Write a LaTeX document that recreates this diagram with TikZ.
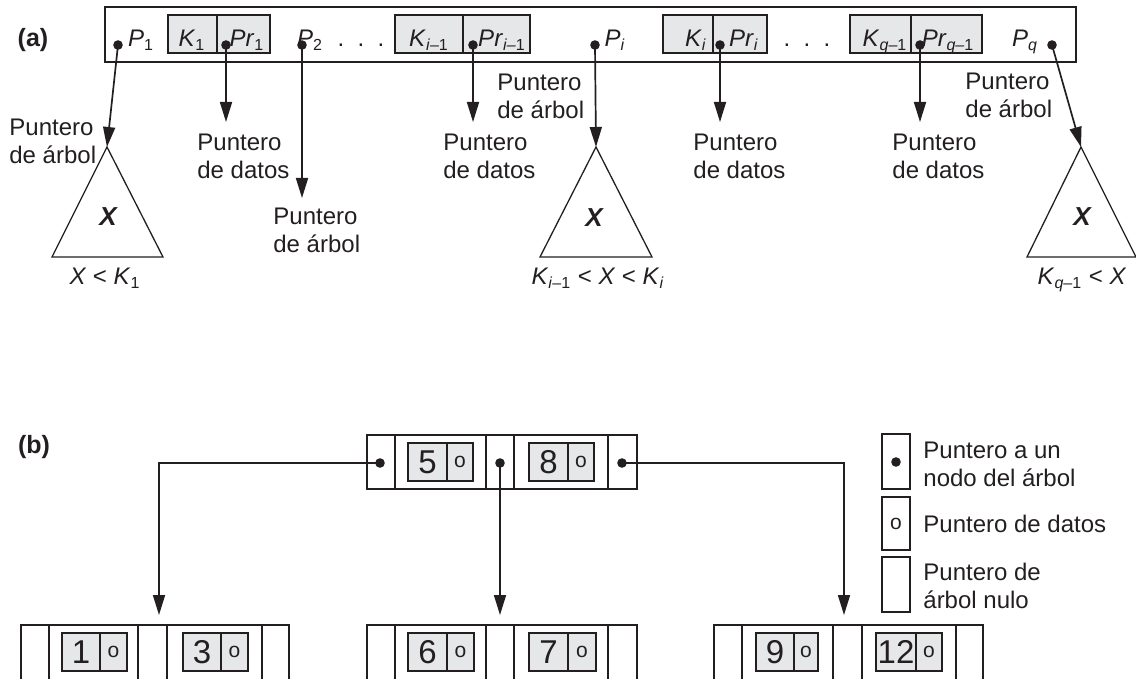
\documentclass[tikz,border=0pt]{standalone}
\usepackage{fontspec}
\setmainfont{Liberation Sans}
\usetikzlibrary{arrows.meta}
\definecolor{ink}{HTML}{231F20}
\definecolor{keyfill}{HTML}{E6E7E8}
\newcommand{\sbs}[1]{\textsubscript{#1}}
\begin{document}
\begin{tikzpicture}[x=0.5pt,y=-0.5pt,
  lbl/.style={font=\fontsize{12}{14}\selectfont, inner sep=0pt, text=ink},
  two/.style={lbl, align=left, anchor=west},
  tag/.style={font=\fontsize{12.5}{14}\selectfont\bfseries, inner sep=0pt, text=ink},
  bigx/.style={font=\fontsize{13}{14}\selectfont\bfseries\itshape, inner sep=0pt, text=ink},
  ptr/.style={draw=ink, line width=0.85pt, -{Triangle[length=10pt,width=6pt]}},
  frame/.style={draw=ink, line width=0.85pt},
  tri/.style={draw=ink, line width=0.65pt},
  keybox/.style={draw=ink, fill=keyfill, line width=0.75pt},
  keydiv/.style={draw=ink, line width=0.75pt},
  pdot/.style={circle, fill=ink, inner sep=0pt, minimum size=4.8pt},
  num/.style={font=\fontsize{16.5}{18}\selectfont, inner sep=0pt, text=ink},
  small/.style={font=\fontsize{10.5}{12}\selectfont, inner sep=0pt, text=ink},
]
\useasboundingbox (0,0) rectangle (1136,679);
\clip (0,0) rectangle (1136,679);

% ---------------- (a) ----------------
\node[tag, anchor=base] (taga) at (33,47) {(a)};
\draw[frame] (105,7) rectangle (1076,62);
\draw[keybox] (168,15) rectangle (270,53); \draw[keydiv] (217,15) -- (217,53);
\draw[keybox] (395,15) rectangle (530,53); \draw[keydiv] (463,15) -- (463,53);
\draw[keybox] (663,15) rectangle (767,53); \draw[keydiv] (713,15) -- (713,53);
\draw[keybox] (850,15) rectangle (982,53); \draw[keydiv] (911,15) -- (911,53);

\node[lbl, anchor=base] (lP1) at (141,47) {\textit{P}\sbs{1}};
\node[lbl, anchor=base] (lK1) at (192,47) {\textit{K}\sbs{1}};
\node[lbl, anchor=base] (lPr1) at (247,47) {\textit{Pr}\sbs{1}};
\node[lbl, anchor=base] (lP2) at (310,47) {\textit{P}\sbs{2}};
\node[lbl, anchor=base] (dots1) at (361,47) {.\ \ .\ \ .};
\node[lbl, anchor=base] (lKim) at (429,47) {\textit{K}\sbs{\textit{i}–1}};
\node[lbl, anchor=base] (lPrim) at (502,47) {\textit{Pr}\sbs{\textit{i}–1}};
\node[lbl, anchor=base] (lPi) at (615,47) {\textit{P}\sbs{\textit{i}}};
\node[lbl, anchor=base] (lKi) at (696,47) {\textit{K}\sbs{\textit{i}}};
\node[lbl, anchor=base] (lPri) at (744,47) {\textit{Pr}\sbs{\textit{i}}};
\node[lbl, anchor=base] (dots2) at (807,47) {.\ \ .\ \ .};
\node[lbl, anchor=base] (lKq) at (885,47) {\textit{K}\sbs{\textit{q}–1}};
\node[lbl, anchor=base] (lPrq) at (948,47) {\textit{Pr}\sbs{\textit{q}–1}};
\node[lbl, anchor=base] (lPq) at (1025,47) {\textit{P}\sbs{\textit{q}}};

\node[pdot] (dP1) at (118,45) {};
\node[pdot] (dPr1) at (226,45) {};
\node[pdot] (dP2) at (302,45) {};
\node[pdot] (dPrim) at (473,45) {};
\node[pdot] (dPi) at (595,45) {};
\node[pdot] (dPri) at (720,45) {};
\node[pdot] (dPrq) at (920,45) {};
\node[pdot] (dPq) at (1052,45) {};

\coordinate (apex1) at (107,147);
\coordinate (apex2) at (596,147);
\coordinate (apex3) at (1081,147);
\coordinate (tPr1) at (226,122);
\coordinate (tP2) at (302,198);
\coordinate (tPrim) at (473,122);
\coordinate (tPri) at (720,122);
\coordinate (tPrq) at (920,122);

\draw[tri] (apex1) -- (52,257) -- (163,257) -- cycle;
\draw[tri] (apex2) -- (540,257) -- (652,257) -- cycle;
\draw[tri] (apex3) -- (1027,257) -- (1136,257) -- cycle;
\node[bigx] (x1) at (108,217) {X};
\node[bigx] (x2) at (594,218) {X};
\node[bigx] (x3) at (1082,217) {X};
\node[lbl, anchor=base] (r1) at (105,285) {\textit{X} < \textit{K}\sbs{1}};
\node[lbl, anchor=base] (r2) at (598,285) {\textit{K}\sbs{\textit{i}–1} < \textit{X} < \textit{K}\sbs{\textit{i}}};
\node[lbl, anchor=base] (r3) at (1082,285) {\textit{K}\sbs{\textit{q}–1} < \textit{X}};

\draw[ptr] (dP1.center) -- (apex1);
\draw[ptr] (dPr1.center) -- (tPr1);
\draw[ptr] (dP2.center) -- (tP2);
\draw[ptr] (dPrim.center) -- (tPrim);
\draw[ptr] (dPi.center) -- (apex2);
\draw[ptr] (dPri.center) -- (tPri);
\draw[ptr] (dPrq.center) -- (tPrq);
\draw[ptr] (dPq.center) -- (apex3);

\node[two] (n1) at (9,141) {Puntero\\de árbol};
\node[two] (n2) at (197,156) {Puntero\\de datos};
\node[two] (n3) at (273,230) {Puntero\\de árbol};
\node[two] (n4) at (443,156) {Puntero\\de datos};
\node[two] (n5) at (497,96) {Puntero\\de árbol};
\node[two] (n6) at (693,156) {Puntero\\de datos};
\node[two] (n7) at (892,156) {Puntero\\de datos};
\node[two] (n8) at (965,95) {Puntero\\de árbol};

% ---------------- (b) ----------------
\node[tag, anchor=base] (tagb) at (34,453) {(b)};

% root
\draw[frame] (367,435) rectangle (637,489);
\foreach \xx in {395,486,514,608} \draw[frame] (\xx,435) -- (\xx,489);
\draw[keybox] (408,443) rectangle (473,481); \draw[keydiv] (447,443) -- (447,481);
\draw[keybox] (529,443) rectangle (594,481); \draw[keydiv] (568,443) -- (568,481);
\node[num] (k5) at (427.5,462) {5};
\node[small] (o5) at (460,462) {o};
\node[num] (k8) at (548.5,462) {8};
\node[small] (o8) at (581,462) {o};
\node[pdot] (dr1) at (380,463) {};
\node[pdot] (dr2) at (500,463) {};
\node[pdot] (dr3) at (622,463) {};

% leaves
\draw[frame] (21,625) rectangle (289,720);
\foreach \xx in {49,138,167,262} \draw[frame] (\xx,625) -- (\xx,720);
\draw[keybox] (62,633) rectangle (127,671); \draw[keydiv] (100,633) -- (100,671);
\draw[keybox] (183,633) rectangle (248,671); \draw[keydiv] (221,633) -- (221,671);
\node[num] (k1) at (81,652) {1};
\node[small] (o1) at (113.5,652) {o};
\node[num] (k3) at (202,652) {3};
\node[small] (o3) at (234.5,652) {o};

\draw[frame] (367,625) rectangle (637,720);
\foreach \xx in {395,486,514,608} \draw[frame] (\xx,625) -- (\xx,720);
\draw[keybox] (408,633) rectangle (474,671); \draw[keydiv] (447,633) -- (447,671);
\draw[keybox] (529,633) rectangle (596,671); \draw[keydiv] (568,633) -- (568,671);
\node[num] (k6) at (427.5,652) {6};
\node[small] (o6) at (460.5,652) {o};
\node[num] (k7) at (548.5,652) {7};
\node[small] (o7) at (582,652) {o};

\draw[frame] (714,625) rectangle (983,720);
\foreach \xx in {742,833,862,956} \draw[frame] (\xx,625) -- (\xx,720);
\draw[keybox] (756,633) rectangle (818,671); \draw[keydiv] (794,633) -- (794,671);
\draw[keybox] (876,633) rectangle (942,671); \draw[keydiv] (916,633) -- (916,671);
\node[num] (k9) at (775,652) {9};
\node[small] (o9) at (806,652) {o};
\node[num] (k12) at (896,652) {12};
\node[small] (o12) at (929,652) {o};

\coordinate (c1) at (159,615);
\coordinate (c2) at (500,615);
\coordinate (c3) at (844,615);
\draw[ptr] (dr1.center) -| (c1);
\draw[ptr] (dr2.center) -- (c2);
\draw[ptr] (dr3.center) -| (c3);

% legend
\draw[frame] (882,434) rectangle (910,489);
\draw[frame] (882,497) rectangle (910,550);
\draw[frame] (882,557) rectangle (910,612);
\node[pdot] (ld) at (896,462) {};
\node[small] (lo) at (896,524) {o};
\node[two] (g1) at (923,464) {Puntero a un\\nodo del árbol};
\node[lbl, anchor=base west] (g2) at (923,532) {Puntero de datos};
\node[two] (g3) at (923,586) {Puntero de\\árbol nulo};
\end{tikzpicture}
\end{document}
